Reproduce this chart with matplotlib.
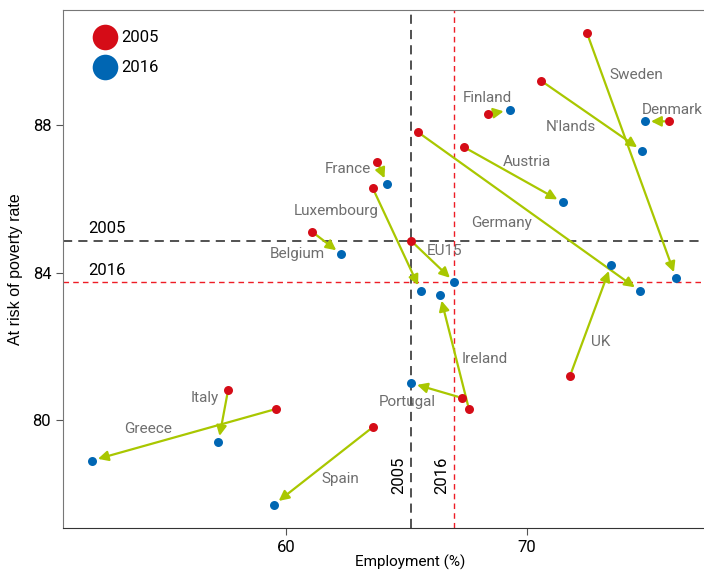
import numpy as np
import matplotlib.pyplot as plt

plt.rcParams['font.family'] = ['Roboto', 'DejaVu Sans']

countries = ['Sweden', 'Denmark', "N'lands", 'Finland', 'Austria', 'Germany', 'UK', 'EU15',
             'France', 'Luxembourg', 'Belgium', 'Ireland', 'Portugal', 'Italy', 'Greece', 'Spain']
emp_2005 = [72.5, 75.9, 70.6, 68.4, 67.4, 65.5, 71.8, 65.2,
            63.8, 63.6, 61.1, 67.6, 67.3, 57.6, 59.6, 63.6]
pov_2005 = [90.5, 88.1, 89.2, 88.3, 87.4, 87.8, 81.2, 84.86,
            87.0, 86.3, 85.1, 80.3, 80.6, 80.8, 80.3, 79.8]
emp_2016 = [76.2, 74.9, 74.8, 69.3, 71.5, 74.7, 73.5, 67.0,
            64.2, 65.6, 62.3, 66.4, 65.2, 57.2, 51.95, 59.5]
pov_2016 = [83.85, 88.1, 87.3, 88.4, 85.9, 83.5, 84.2, 83.74,
            86.4, 83.5, 84.5, 83.4, 81.0, 79.4, 78.9, 77.7]
label_x = [74.56, 76.05, 71.83, 68.38, 70.0, 68.96, 73.07, 66.6,
           62.57, 62.1, 60.46, 68.26, 65.06, 56.64, 54.27, 62.28]
label_y = [89.36, 88.4, 87.95, 88.73, 87.0, 85.34, 82.12, 84.59,
           86.8, 85.67, 84.5, 81.66, 80.49, 80.6, 79.76, 78.41]

eu_emp = {'2005': 65.19, '2016': 67.0}
eu_pov = {'2005': 84.86, '2016': 83.74}

red = '#d50c17'
blue = '#0066b3'
green = '#a9c700'
grey = '#6e6e6e'

fig = plt.figure(figsize=(7.04, 5.72), dpi=100)
ax = fig.add_axes([63/704, 44/572, 1 - 63/704, 518/572])
ax.set_xlim(50.75, 77.36)
ax.set_ylim(77.07, 91.12)

# reference lines
ax.axhline(eu_pov['2005'], color='#222222', ls=(0, (6, 4)), lw=1.1, zorder=1)
ax.axvline(eu_emp['2005'], color='#222222', ls=(0, (6, 4)), lw=1.1, zorder=1)
ax.axhline(eu_pov['2016'], color='#ee1c25', ls=(0, (4, 3)), lw=1.0, zorder=1)
ax.axvline(eu_emp['2016'], color='#ee1c25', ls=(0, (4, 3)), lw=1.0, zorder=1)

ax.text(51.8, eu_pov['2005'] + 0.12, '2005', fontsize=12, va='bottom', ha='left')
ax.text(51.8, eu_pov['2016'] + 0.12, '2016', fontsize=12, va='bottom', ha='left')
ax.text(eu_emp['2005'] - 0.2, 78.5, '2005', fontsize=12, rotation=90, va='center', ha='right')
ax.text(eu_emp['2016'] - 0.2, 78.5, '2016', fontsize=12, rotation=90, va='center', ha='right')

for i in range(len(countries)):
    ax.annotate('', xy=(emp_2016[i], pov_2016[i]), xytext=(emp_2005[i], pov_2005[i]),
                arrowprops=dict(arrowstyle='-|>', color=green, lw=1.6,
                                mutation_scale=15, shrinkA=3, shrinkB=4.5),
                zorder=2)
    ax.text(label_x[i], label_y[i], countries[i], color=grey, fontsize=11,
            ha='center', va='center')

ax.scatter(emp_2005, pov_2005, s=42, color=red, zorder=3, linewidths=0)
ax.scatter(emp_2016, pov_2016, s=42, color=blue, zorder=3, linewidths=0)

# legend
ax.scatter([52.5], [90.38], s=340, color=red, linewidths=0, zorder=3)
ax.scatter([52.5], [89.57], s=340, color=blue, linewidths=0, zorder=3)
ax.text(53.15, 90.38, '2005', fontsize=12, va='center')
ax.text(53.15, 89.57, '2016', fontsize=12, va='center')

ax.set_xticks([60, 70])
ax.set_yticks([80, 84, 88])
ax.tick_params(axis='both', labelsize=12, length=5, color='#555555', direction='out')
ax.spines['right'].set_visible(False)
for s in ['left', 'top', 'bottom']:
    ax.spines[s].set_color('#777777')
ax.spines['bottom'].set_color('#333333')

ax.set_xlabel('Employment (%)', fontsize=11)
ax.xaxis.set_label_coords(0.541, -0.052)
ax.set_ylabel('At risk of poverty rate', fontsize=11.5, family=['Liberation Sans', 'DejaVu Sans'])
ax.yaxis.set_label_coords(-0.063, 0.5)

fig.savefig('out.png', dpi=100)
